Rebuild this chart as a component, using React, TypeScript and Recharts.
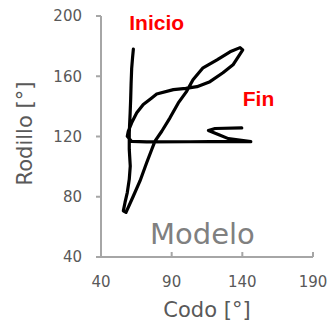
import { LineChart, Line, XAxis, YAxis, ReferenceDot } from 'recharts';

// Codo (elbow) vs Rodillo (knee) trace in drawing order.
const codo = [
  62.9, 62.3, 61.7, 61.3, 61.0, 60.6, 60.2, 60.0,
  60.0, 60.7, 60.0, 58.6, 57.0, 55.8, 57.7,
  62.9, 67.6, 72.3, 75.9, 78.2, 83.0, 88.8, 94.7, 100.6, 105.1, 112.2,
  122.1, 131.3, 138.4, 140.3,
  137.2, 133.4, 126.3, 117.1, 107.9, 100.0, 91.2, 79.4, 75.9, 69.9, 65.3, 61.7, 59.3,
  58.6, 61.7, 72.3, 103.0, 131.3, 146.0,
  130.1, 123.0, 116.0, 120.7, 139.6,
];
const rodillo = [
  178.0, 172.0, 165.0, 155.0, 145.0, 135.0, 127.0, 122.0,
  111.4, 100.4, 91.6, 82.8, 76.2, 70.6, 69.6,
  80.5, 90.5, 102.6, 111.4, 116.9, 123.5, 132.4, 142.3, 150.0, 157.7, 165.6,
  170.9, 176.2, 179.0, 177.5,
  173.1, 167.6, 162.3, 156.4, 153.1, 152.0, 151.1, 148.2, 145.6, 141.2, 135.7, 129.1, 123.5,
  120.2, 116.7, 116.4, 116.5, 116.8, 116.6,
  118.6, 121.3, 124.0, 125.3, 125.7,
];
const codoTicks = [40, 90, 140, 190];
const rodilloTicks = [40, 80, 120, 160, 200];

const trace = codo.map((c, i) => ({ codo: c, rodillo: rodillo[i] }));

const AXIS = '#a6a6a6';
const TEXT = '#595959';
const FONT = '"DejaVu Sans", sans-serif';

// label content for a zero-radius ReferenceDot: text starts at the dot, dot = baseline
function note(text: string, style: Record<string, any>) {
  return (props: any) => {
    const { x, y } = props.viewBox;
    return (
      <text x={x} y={y} {...style}>
        {text}
      </text>
    );
  };
}

export default function App() {
  return (
    <div style={{ position: 'absolute', left: 0, top: 0, width: 331, height: 324, background: '#fff' }}>
      <LineChart width={331} height={324} data={trace} margin={{ top: 16, right: 18, bottom: 0, left: 0 }}>
        <XAxis
          type="number"
          dataKey="codo"
          domain={[40, 190]}
          ticks={codoTicks}
          height={67}
          tickSize={-5}
          tickMargin={24}
          axisLine={{ stroke: AXIS, strokeWidth: 2 }}
          tickLine={{ stroke: AXIS, strokeWidth: 2 }}
          tick={{ fill: TEXT, fontSize: 15, fontFamily: FONT }}
          label={(p: any) => {
            const vb = p.viewBox;
            return (
              <text x={vb.x + vb.width / 2} y={vb.y + 60} textAnchor="middle" fill={TEXT} fontSize={21} fontFamily={FONT}>
                Codo [°]
              </text>
            );
          }}
        />
        <YAxis
          type="number"
          dataKey="rodillo"
          domain={[40, 200]}
          ticks={rodilloTicks}
          width={101}
          tickSize={5}
          tickMargin={14}
          axisLine={{ stroke: AXIS, strokeWidth: 2 }}
          tickLine={{ stroke: AXIS, strokeWidth: 2 }}
          tick={{ fill: TEXT, fontSize: 15, fontFamily: FONT }}
          label={(p: any) => {
            const vb = p.viewBox;
            const cx = vb.x + 25;
            const cy = vb.y + vb.height / 2 - 3;
            return (
              <text
                x={cx}
                y={cy}
                transform={`rotate(-90 ${cx} ${cy})`}
                textAnchor="middle"
                dominantBaseline="central"
                fill={TEXT}
                fontSize={21}
                fontFamily={FONT}
              >
                Rodillo [°]
              </text>
            );
          }}
        />
        <Line
          type="linear"
          dataKey="rodillo"
          stroke="#000"
          strokeWidth={3.2}
          strokeLinejoin="round"
          strokeLinecap="round"
          dot={false}
          activeDot={false}
          isAnimationActive={false}
        />
        <ReferenceDot
          x={60}
          y={191}
          r={0}
          fill="none"
          stroke="none"
          label={note('Inicio', { fill: '#ff0000', fontSize: 21, fontWeight: 'bold', fontFamily: '"Liberation Sans", Arial, sans-serif' })}
        />
        <ReferenceDot
          x={140.3}
          y={140}
          r={0}
          fill="none"
          stroke="none"
          label={note('Fin', { fill: '#ff0000', fontSize: 21, fontWeight: 'bold', fontFamily: '"Liberation Sans", Arial, sans-serif' })}
        />
        <ReferenceDot
          x={74.7}
          y={48.6}
          r={0}
          fill="none"
          stroke="none"
          label={note('Modelo', { fill: '#808080', fontSize: 29, fontFamily: FONT })}
        />
      </LineChart>
    </div>
  );
}
